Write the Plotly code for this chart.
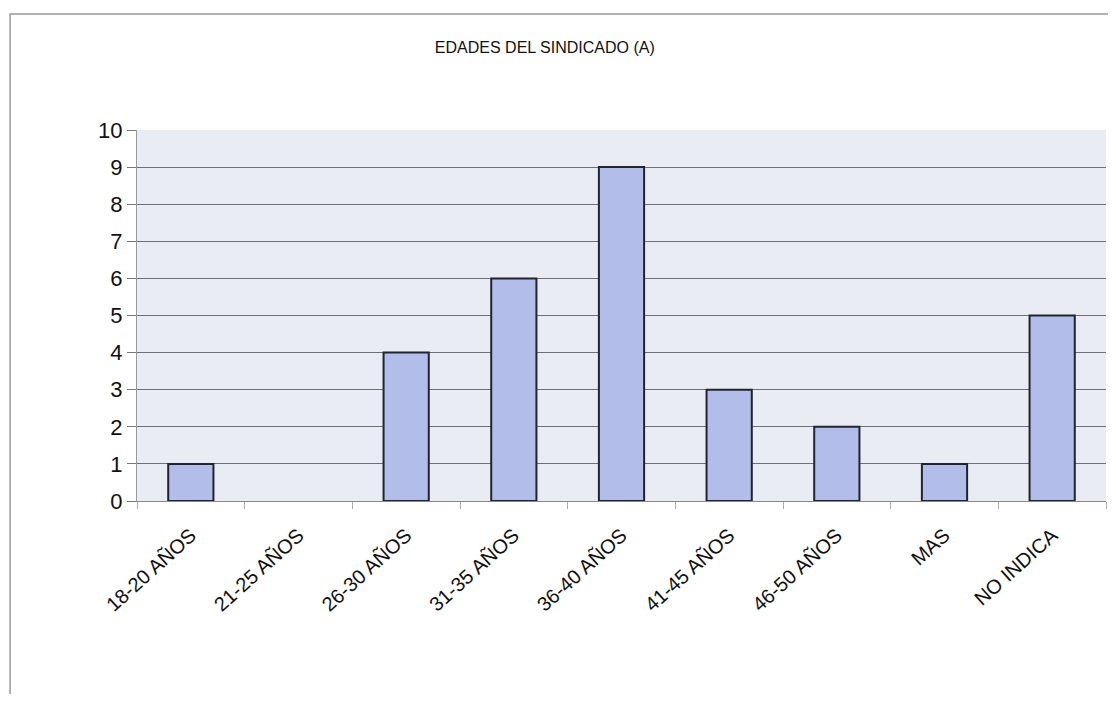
import plotly.graph_objects as go

categories = ["18-20 AÑOS", "21-25 AÑOS", "26-30 AÑOS", "31-35 AÑOS", "36-40 AÑOS",
              "41-45 AÑOS", "46-50 AÑOS", "MAS", "NO INDICA"]
values = [1, 0, 4, 6, 9, 3, 2, 1, 5]
y_ticks = list(range(0, 11))

outline_widths = [2 if v > 0 else 0 for v in values]

fig = go.Figure(go.Bar(
    x=categories, y=values, width=0.42,
    marker=dict(color="#b3bde9", line=dict(color="#1f2530", width=outline_widths)),
))

fig.update_layout(
    width=1100, height=686,
    margin=dict(l=129, r=2, t=122, b=193, autoexpand=False),
    paper_bgcolor="white", plot_bgcolor="#e9edf3",
    title=dict(text="EDADES DEL SINDICADO (A)", xref="container", yref="container",
               x=0.488, xanchor="center", y=0.943, yanchor="middle",
               font=dict(family="Liberation Sans, Arial", size=16, color="#111")),
    showlegend=False,
    font=dict(family="Liberation Sans, Arial", color="#111"),
)
fig.update_xaxes(
    tickangle=-42, tickfont=dict(size=20, color="#111"),
    ticks="outside", tickson="boundaries", ticklen=7, tickcolor="#aaa",
    ticklabelstandoff=14,
    showline=True, linecolor="#888", linewidth=1, showgrid=False,
)
fig.update_yaxes(
    range=[0, 10], tickvals=y_ticks, tickfont=dict(size=22, color="#111"),
    ticks="outside", ticklen=9, tickcolor="#777",
    showgrid=True, gridcolor="#6d7078", gridwidth=1,
    showline=True, linecolor="#999", linewidth=1, zeroline=False,
)
fig.add_shape(type="rect", xref="paper", yref="paper",
              x0=-0.131, x1=1.01, y0=-0.58, y1=1.3127,
              line=dict(color="#999", width=1.5), fillcolor="rgba(0,0,0,0)", layer="below")

fig.write_html("out.html")
